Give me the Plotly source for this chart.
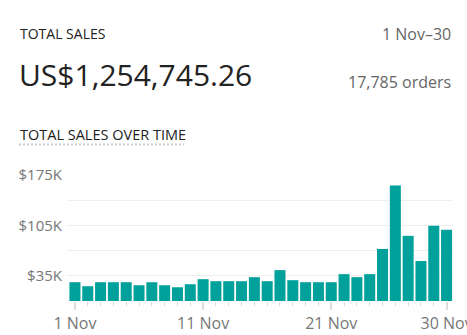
import plotly.graph_objects as go

# Daily total sales for November (USD)
days = list(range(1, 31))
sales = [26100, 20500, 26100, 26100, 26100, 21900, 26100, 21900, 19100, 23300,
         30300, 27500, 27500, 27500, 33100, 27500, 42900, 28900, 26100, 26100,
         26100, 37300, 33100, 37300, 72300, 160500, 90500, 55500, 104500, 98900]

x_tick_vals = [1, 11, 21, 30]
x_tick_text = ["1 Nov", "11 Nov", "21 Nov", "30 Nov"]
y_tick_vals = [0, 35000, 70000, 105000, 140000, 175000]
y_tick_text = ["", "$35K", "", "$105K", "", "$175K"]

W, H = 467, 335
L, R, T, B = 67, 14, 175, 34
pw, ph = W - L - R, H - T - B

def px(x):
    return (x - L) / pw

def py(y):
    return (H - B - y) / ph

FONT = "Open Sans"
BAR = "#00A19B"

fig = go.Figure(go.Bar(x=days, y=sales, marker_color=BAR, marker_line_width=0,
                       hoverinfo="skip"))

fig.update_layout(
    width=W, height=H,
    margin=dict(l=L, r=R, t=T, b=B, autoexpand=False),
    paper_bgcolor="white", plot_bgcolor="white",
    bargap=0.14, showlegend=False,
    font=dict(family=FONT, color="#777777"),
)

fig.update_xaxes(
    range=[0.38, 30.5], showgrid=False, zeroline=False, showline=False,
    automargin=False, ticklabeloverflow="allow",
    tickvals=x_tick_vals, ticktext=x_tick_text, ticks="outside", ticklen=8,
    tickwidth=2, tickcolor="#dcdcdc", tickfont=dict(size=16, color="#777777"),
    minor=dict(dtick=1, tick0=1, ticks="outside", ticklen=4, tickwidth=1,
               tickcolor="#dcdcdc", showgrid=False),
)

fig.update_yaxes(
    range=[0, 175000], tickvals=y_tick_vals, ticktext=y_tick_text,
    showgrid=True, gridcolor="#eeeeee", gridwidth=1, zeroline=False,
    showline=False, ticks="", ticklabelstandoff=4, automargin=False,
    tickfont=dict(size=15, color="#777777"),
)

annotations = [
    dict(text="TOTAL SALES", x=px(18), y=py(33), xanchor="left", yanchor="middle",
         font=dict(size=14, color="#222222")),
    dict(text="1 Nov\u201330", x=px(453), y=py(34), xanchor="right", yanchor="middle",
         font=dict(size=16, color="#666666")),
    dict(text="US$1,254,745.26", x=px(17), y=py(75), xanchor="left", yanchor="middle",
         font=dict(size=30, color="#222222")),
    dict(text="17,785 orders", x=px(453), y=py(82), xanchor="right", yanchor="middle",
         font=dict(size=16, color="#666666")),
    dict(text="TOTAL SALES OVER TIME", x=px(18), y=py(134), xanchor="left",
         yanchor="middle", font=dict(size=14.5, color="#222222")),
]
for a in annotations:
    a.update(xref="paper", yref="paper", showarrow=False)
fig.update_layout(annotations=annotations)

# dotted underline beneath the section heading
fig.add_shape(type="line", xref="paper", yref="paper",
              x0=px(19), x1=px(184), y0=py(144.5), y1=py(144.5),
              line=dict(color="#c4cdd5", width=2, dash="2px,2px"))

fig.write_html("out.html")
